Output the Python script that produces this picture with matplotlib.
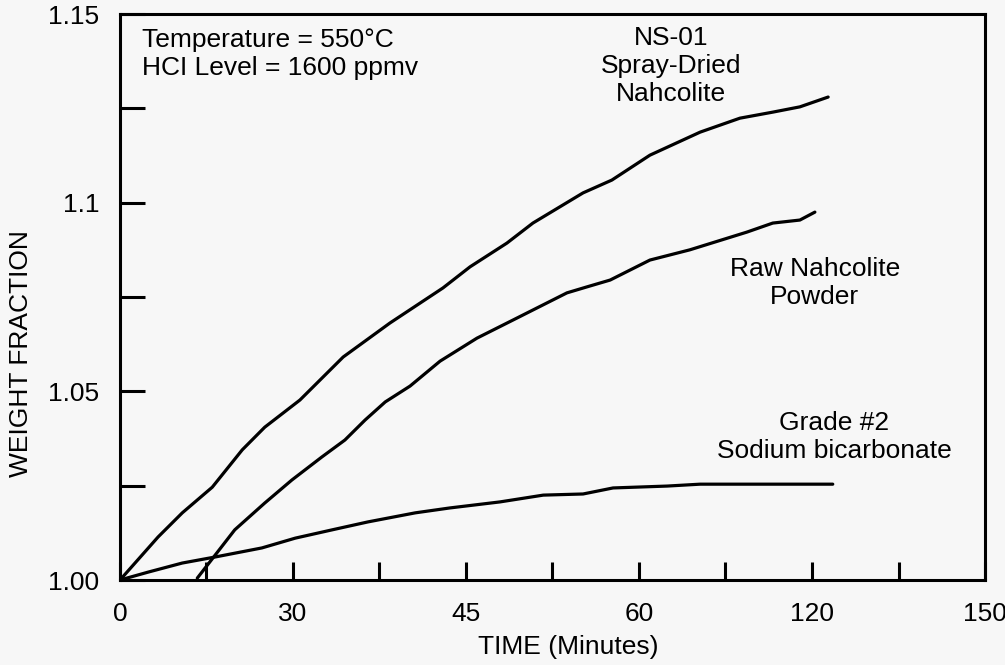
import matplotlib
matplotlib.use("Agg")
import matplotlib.pyplot as plt

plt.rcParams['font.family'] = ['Liberation Sans', 'DejaVu Sans']

# NS-01 spray-dried nahcolite
ns01_t = [0, 6.6, 10.8, 16.0, 21.2, 25.1, 31.2, 38.7, 46.8, 56.0, 60.7, 67.1,
          71.6, 80.3, 85.3, 91.9, 100.6, 107.5, 113.2, 117.9, 122.8]
ns01_w = [1.0000, 1.0114, 1.0178, 1.0246, 1.0345, 1.0405, 1.0477, 1.0591, 1.0681,
          1.0774, 1.0830, 1.0893, 1.0946, 1.1026, 1.1060, 1.1126, 1.1187, 1.1224,
          1.1240, 1.1254, 1.1280]

# raw nahcolite powder
raw_t = [13.4, 16.5, 19.9, 25.1, 29.8, 35.0, 39.0, 42.5, 46.0, 50.3, 55.5, 61.9,
         68.8, 77.5, 81.0, 85.0, 91.9, 98.8, 108.7, 113.2, 117.9, 120.5]
raw_w = [1.0005, 1.0066, 1.0133, 1.0204, 1.0265, 1.0326, 1.0371, 1.0424, 1.0472,
         1.0514, 1.0580, 1.0641, 1.0694, 1.0761, 1.0777, 1.0795, 1.0848, 1.0875,
         1.0922, 1.0946, 1.0954, 1.0975]

# grade #2 sodium bicarbonate
sb_t = [0, 4.9, 10.8, 16.5, 24.6, 30.4, 36.8, 43.0, 51.2, 57.2, 65.9, 73.4,
        80.3, 85.5, 94.9, 100.6, 112.2, 123.6]
sb_w = [1.0000, 1.0021, 1.0045, 1.0061, 1.0085, 1.0111, 1.0133, 1.0154, 1.0178,
        1.0191, 1.0207, 1.0225, 1.0228, 1.0244, 1.0249, 1.0254, 1.0254, 1.0254]

x_ticks = [0, 15, 30, 45, 60, 75, 90, 105, 120, 135, 150]
x_labels = ['0', '', '30', '', '45', '', '60', '', '120', '', '150']
y_ticks = [1.00, 1.025, 1.05, 1.075, 1.10, 1.125, 1.15]
y_labels = ['1.00', '', '1.05', '', '1.1', '', '1.15']

bg = '#f7f7f7'
fs = 19
fig = plt.figure(figsize=(10.05, 6.65), dpi=100, facecolor=bg)
ax = fig.add_axes([0.1194, 0.1278, 0.8607, 0.8511], facecolor=bg)

for t, w in [(ns01_t, ns01_w), (raw_t, raw_w), (sb_t, sb_w)]:
    ax.plot(t, w, color='black', lw=2.3, solid_capstyle='round')

ax.set_xlim(0, 150)
ax.set_ylim(1.0, 1.15)
ax.set_xticks(x_ticks)
ax.set_xticklabels(x_labels)
ax.set_yticks(y_ticks)
ax.set_yticklabels(y_labels)
ax.tick_params(axis='y', direction='in', length=18, width=2.2, pad=15, labelsize=fs)
ax.tick_params(axis='x', direction='in', length=13, width=2.2, pad=16, labelsize=fs)
for s in ax.spines.values():
    s.set_linewidth(2.2)

ax.set_xlabel('TIME (Minutes)', fontsize=fs)
ax.xaxis.set_label_coords(0.518, -0.098)
ax.set_ylabel('WEIGHT FRACTION', fontsize=fs)
ax.yaxis.set_label_coords(-0.101, 0.40)

ax.text(3.9, 1.1462, 'Temperature = 550°C\nHCI Level = 1600 ppmv', fontsize=fs,
        va='top', ha='left', linespacing=1.2)
ax.text(95.6, 1.1468, 'NS-01\nSpray-Dried\nNahcolite', fontsize=fs,
        va='top', ha='center', linespacing=1.2)
ax.text(120.5, 1.0856, 'Raw Nahcolite\nPowder', fontsize=fs,
        va='top', ha='center', linespacing=1.2)
ax.text(123.8, 1.0448, 'Grade #2\nSodium bicarbonate', fontsize=fs,
        va='top', ha='center', linespacing=1.2)

fig.savefig('out.png', dpi=100, facecolor=bg)
